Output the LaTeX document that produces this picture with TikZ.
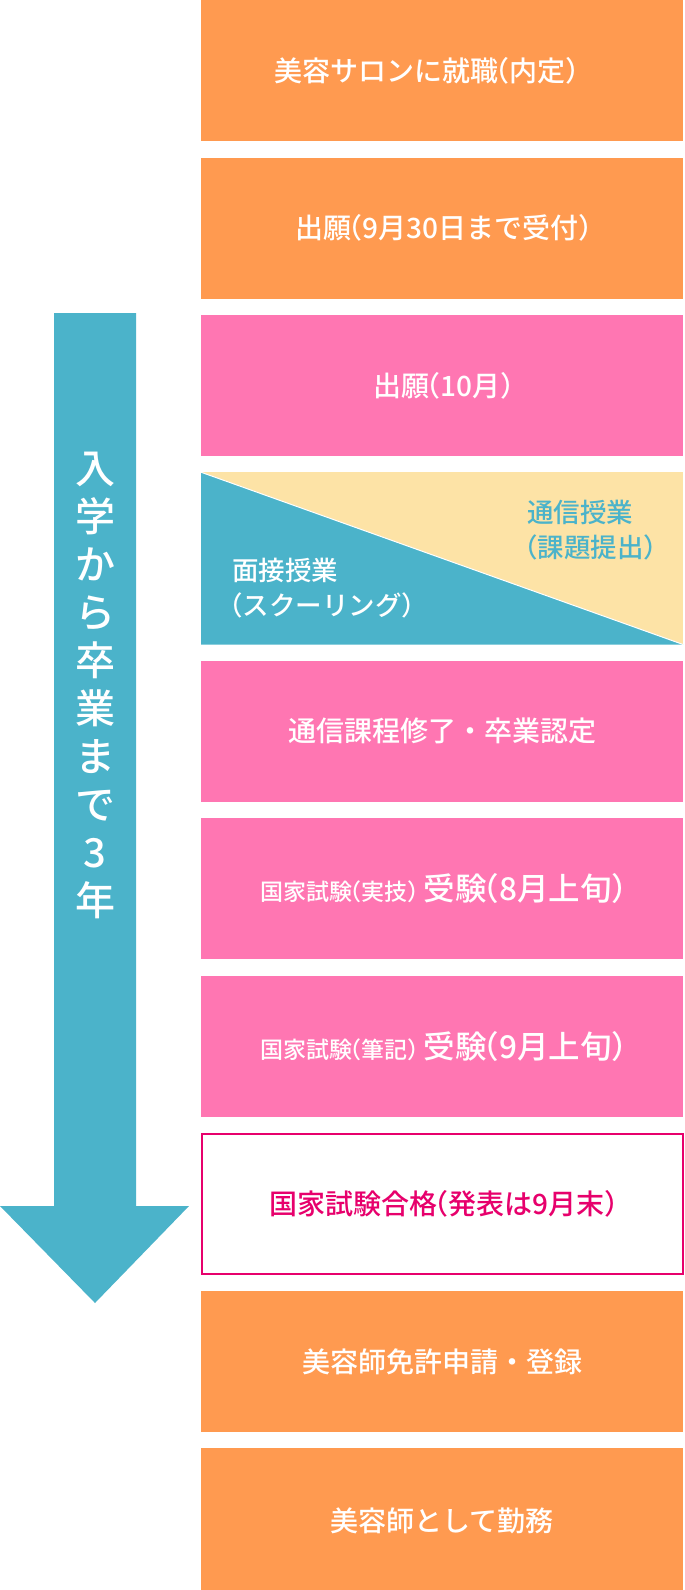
\documentclass[tikz,border=0pt]{standalone}
\usepackage{fontspec}
\setmainfont{Noto Sans CJK JP}[BoldFont={Noto Sans CJK JP Medium}]
\usetikzlibrary{positioning}
\definecolor{salonorange}{HTML}{FF9A50}
\definecolor{schoolpink}{HTML}{FF76B2}
\definecolor{flowteal}{HTML}{4BB3CA}
\definecolor{mailcream}{HTML}{FDE3A6}
\definecolor{passred}{HTML}{E7006C}
% narrow full-width brackets
\newcommand{\lp}{\kern-.6em（}
\newcommand{\rp}{）\kern-.6em}

\begin{document}
\begin{tikzpicture}[
  x=1pt, y=-1pt,
  node distance=16pt,
  stagebox/.style={minimum width=482pt, minimum height=141pt, inner sep=0pt,
                   text=white, font=\fontsize{28}{32}\selectfont\bfseries},
  orangebox/.style={stagebox, fill=salonorange},
  pinkbox/.style={stagebox, fill=schoolpink},
  exambox/.style={pinkbox, font=\fontsize{31.5}{36}\selectfont\bfseries},
  passbox/.style={stagebox, draw=passred, line width=2pt, fill=white, text=passred,
                  minimum width=481pt, minimum height=140pt},
  lessontext/.style={align=left, inner sep=0pt, font=\fontsize{26.5}{34.5}\selectfont\bfseries},
  yeartext/.style={align=center, text=white, inner sep=0pt,
                   font=\fontsize{40}{48}\selectfont\bfseries}
]
  \useasboundingbox (0,0) rectangle (685,1590);

  % arrow on the left
  \fill[flowteal] (54,313) -- (136,313) -- (136,1206) -- (189,1206)
    -- (95,1303) -- (0,1206) -- (54,1206) -- cycle;
  \node[yeartext] (span) at (95,685) {入\\学\\か\\ら\\卒\\業\\ま\\で\\3\\年};

  % steps
  \node[orangebox, anchor=north west] (salon) at (201,0) {美容サロンに就職\lp 内定\rp\hspace*{34pt}};
  \node[orangebox, below=of salon] (apply) {出願\lp 9月30日まで受付\rp};
  \node[pinkbox, below=of apply] (enrol) {出願\lp 10月\rp};
  \node[stagebox, fill=mailcream, minimum height=172pt, below=of enrol] (lessons) {};
  \fill[flowteal] (lessons.north west) -- (lessons.south east) -- (lessons.south west) -- cycle;
  \draw[white, line width=1pt] (lessons.north west) -- (lessons.south east);
  \node[lessontext, text=flowteal, anchor=west] (mail) at (527,530) {通信授業\\\hspace*{-.6em}（課題提出\rp};
  \node[lessontext, text=white, anchor=west] (school) at (232,588) {面接授業\\\hspace*{-.6em}（スクーリング\rp};
  \node[pinkbox, below=of lessons] (finish) {通信課程修了・卒業認定};
  \node[exambox, below=of finish] (practical)
    {{\fontsize{23}{28}\selectfont 国家試験\lp 実技\rp} 受験\lp 8月上旬\rp};
  \node[exambox, below=of practical] (written)
    {{\fontsize{23}{28}\selectfont 国家試験\lp 筆記\rp} 受験\lp 9月上旬\rp};
  \node[passbox, below=of written] (pass) {国家試験合格\lp 発表は9月末\rp};
  \node[orangebox, below=of pass] (licence) {美容師免許申請・登録};
  \node[orangebox, minimum height=144pt, below=of licence] (work) {美容師として勤務};
\end{tikzpicture}
\end{document}
